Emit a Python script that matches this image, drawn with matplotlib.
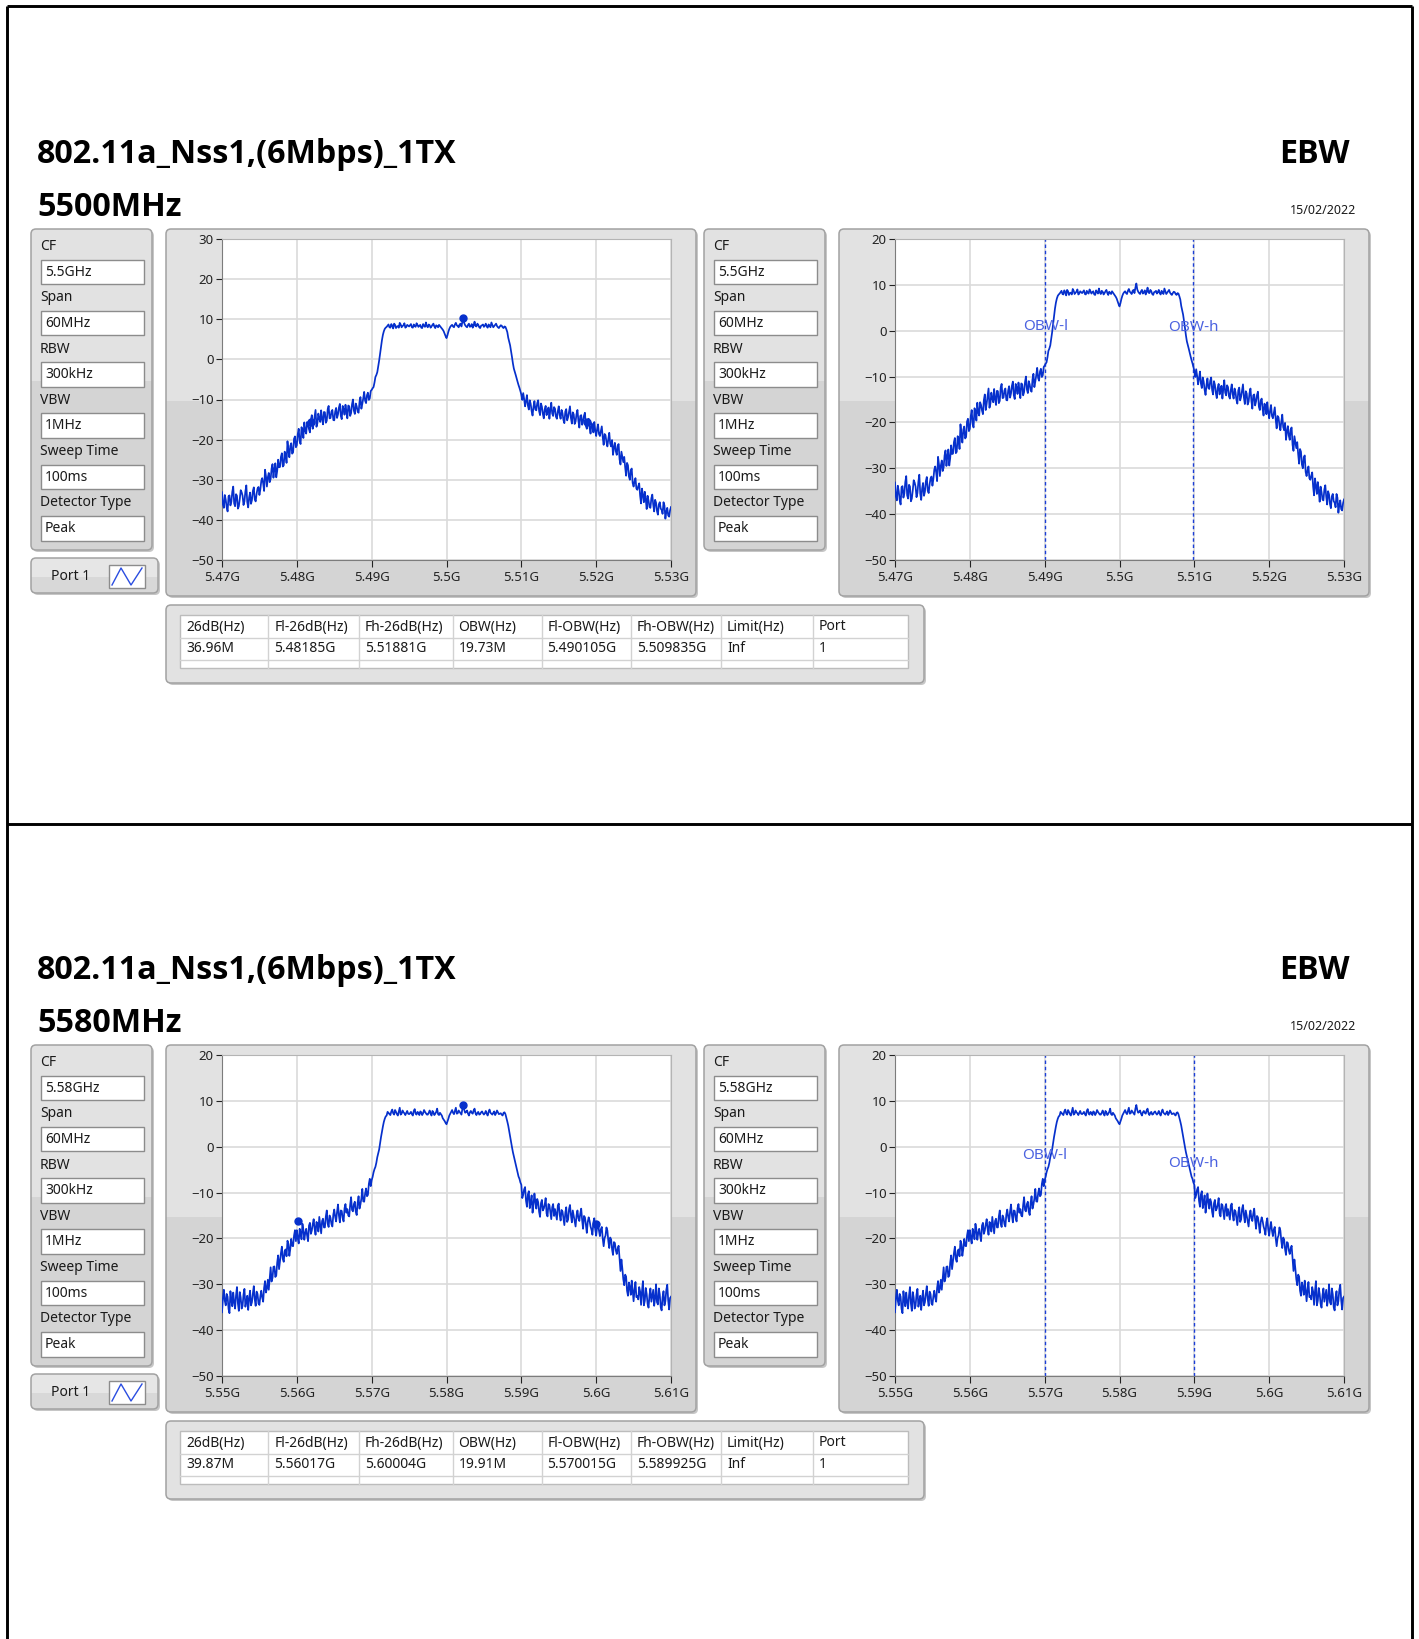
import numpy as np
import matplotlib
matplotlib.use("Agg")
import matplotlib.pyplot as plt
from matplotlib.patches import FancyBboxPatch, Rectangle

plt.rcParams['font.family'] = ['Noto Sans', 'DejaVu Sans']

W, H = 1419, 1639

# ---- values ----
title = '802.11a_Nss1,(6Mbps)_1TX'
test_name = 'EBW'
report_date = '15/02/2022'
channels_mhz = [5500, 5580]

# sweep points: 60 MHz span, one point every 0.125 MHz (481 points)
offsets_mhz = np.arange(481) * 0.125 - 30

# peak-detector traces (dBm). *_even = points on the 0.25 MHz grid,
# *_odd = the points in between, 20 values per row (5 MHz)
trace_5500_even = [
    -33.1, -37.0, -35.0, -37.9, -33.9, -35.5, -31.7, -36.6, -34.0, -36.6, -32.6, -34.0, -35.4, -31.4, -36.9, -33.2, -35.1, -31.9, -35.4, -32.2,
    -33.8, -30.3, -30.9, -27.5, -31.7, -28.3, -29.8, -26.1, -27.3, -29.4, -25.0, -26.8, -23.4, -26.4, -23.6, -20.4, -24.4, -20.9, -23.2, -19.2,
    -21.4, -17.3, -21.1, -17.5, -15.7, -18.5, -16.2, -18.2, -13.9, -15.9, -12.6, -15.9, -14.8, -12.7, -16.2, -13.2, -15.3, -11.6, -14.6, -12.6,
    -15.2, -12.1, -13.7, -11.1, -14.9, -12.4, -11.3, -14.7, -11.7, -13.4, -10.0, -13.6, -11.7, -13.3, -9.4, -11.1, -8.1, -10.9, -8.3, -9.7,
    -7.6, -6.9, -4.4, -3.2, -0.3, 3.2, 6.1, 7.6, 8.1, 8.7, 7.9, 8.4, 8.9, 7.8, 8.3, 9.1, 8.0, 8.5, 7.9, 8.6,
    8.2, 8.8, 7.9, 8.3, 9.0, 8.1, 8.6, 7.8, 8.4, 9.2, 8.0, 8.5, 8.2, 8.9, 7.8, 8.3, 8.6, 8.0, 7.4, 6.4,
    5.3, 6.9, 8.1, 8.6, 8.0, 9.1, 8.3, 8.7, 8.2, 10.3, 8.5, 8.0, 8.9, 8.3, 7.9, 9.4, 8.2, 8.6, 7.8, 8.5,
    8.1, 8.9, 7.9, 8.4, 9.2, 8.0, 8.6, 8.3, 7.8, 8.5, 8.0, 8.2, 7.5, 5.4, 3.5, 0.6, -2.3, -3.9, -5.6, -7.1,
    -8.8, -8.4, -11.7, -8.9, -12.5, -11.1, -14.0, -10.4, -12.7, -10.2, -13.9, -11.8, -14.7, -11.6, -12.8, -14.8, -10.8, -14.1, -12.3, -14.8,
    -11.7, -14.8, -13.4, -15.9, -12.4, -14.4, -11.7, -16.0, -13.7, -15.5, -12.6, -17.0, -13.9, -15.4, -13.3, -17.3, -14.8, -18.5, -16.5, -15.6,
    -19.1, -16.2, -19.1, -16.7, -21.3, -18.9, -21.7, -18.3, -21.7, -23.8, -20.8, -23.8, -21.1, -26.2, -24.3, -24.3, -29.0, -26.4, -30.0, -27.2,
    -31.7, -29.6, -32.5, -30.9, -35.9, -33.8, -33.0, -37.3, -35.2, -37.0, -33.7, -37.9, -35.7, -38.7, -35.6, -37.5, -35.6, -39.7, -37.0, -39.2, -36.8,
]
trace_5500_odd = [
    -36.2, -33.8, -36.9, -34.1, -36.4, -33.0, -35.9, -33.6, -37.2, -34.8, -33.1, -36.3, -32.9, -35.6, -34.4, -36.0, -32.8, -34.9, -33.5, -31.8,
    -32.4, -29.6, -32.8, -29.1, -29.4, -30.6, -27.2, -29.5, -25.9, -27.8, -26.9, -24.3, -26.7, -23.0, -25.8, -22.6, -21.6, -23.5, -19.8, -21.9,
    -18.6, -20.4, -16.9, -19.6, -17.8, -15.6, -17.4, -15.1, -17.3, -14.2, -16.8, -13.5, -15.6, -14.9, -13.1, -15.8, -12.4, -14.7, -13.0, -15.1,
    -13.0, -14.6, -12.0, -14.1, -11.6, -13.8, -12.9, -11.5, -14.1, -11.2, -12.8, -11.0, -13.0, -10.6, -12.3, -9.7, -10.3, -8.9, -10.1, -7.9,
    -7.2, -5.8, -3.9, -1.8, 1.4, 4.8, 7.0, 7.9, 8.4, 8.0, 8.8, 7.7, 8.6, 8.2, 7.9, 8.7, 8.3, 9.0, 8.1, 8.4,
    8.5, 8.0, 8.7, 8.1, 8.6, 8.4, 7.9, 8.8, 8.1, 8.3, 8.7, 7.9, 8.6, 8.2, 8.5, 8.0, 8.3, 7.7, 7.0, 5.8,
    6.0, 7.6, 8.4, 8.2, 8.7, 8.5, 8.0, 8.9, 9.4, 9.0, 8.2, 8.6, 8.1, 8.8, 8.5, 8.3, 8.9, 8.0, 8.4, 8.7,
    8.4, 8.2, 8.7, 8.0, 8.6, 8.3, 8.9, 8.0, 8.2, 8.4, 7.8, 8.1, 6.8, 4.5, 2.1, -1.0, -3.1, -4.8, -6.4, -7.9,
    -10.1, -9.9, -10.4, -11.5, -10.2, -12.9, -11.8, -12.5, -10.9, -12.9, -11.0, -13.6, -12.4, -13.9, -12.0, -12.6, -13.5, -11.9, -14.3, -12.9,
    -13.9, -12.6, -15.1, -13.0, -15.2, -13.1, -14.6, -13.2, -16.1, -13.6, -15.3, -14.1, -16.3, -14.0, -16.6, -15.2, -17.1, -15.9, -18.2, -17.7,
    -17.4, -18.6, -17.9, -19.4, -18.6, -20.6, -19.8, -21.0, -20.1, -22.0, -22.9, -21.5, -24.9, -23.0, -25.6, -26.9, -25.8, -29.2, -27.6, -30.8,
    -30.4, -32.2, -31.6, -34.0, -32.2, -35.6, -34.9, -34.0, -36.8, -34.6, -36.2, -35.0, -37.8, -36.1, -37.2, -38.5, -36.4, -38.0, -38.9, -37.6,
]

trace_5580_even = [
    -36.1, -31.2, -34.6, -32.7, -36.3, -33.4, -31.8, -35.3, -30.6, -35.8, -32.9, -34.7, -31.0, -33.8, -35.6, -31.4, -33.9, -30.4, -34.7, -32.1,
    -34.5, -31.4, -33.8, -29.3, -30.9, -31.2, -26.3, -28.6, -26.1, -28.1, -23.7, -24.9, -21.8, -25.1, -22.4, -20.5, -23.8, -20.1, -21.7, -18.2,
    -18.2, -21.1, -18.7, -16.8, -20.3, -17.9, -20.6, -16.6, -18.3, -15.8, -19.2, -16.8, -15.3, -18.9, -15.7, -17.6, -13.9, -17.5, -15.5, -17.4,
    -13.7, -16.3, -12.6, -16.5, -14.0, -16.3, -12.5, -13.6, -15.2, -11.0, -14.1, -12.0, -14.9, -10.8, -12.6, -9.2, -12.0, -9.1, -10.5, -7.0,
    -7.3, -5.6, -4.4, -2.3, -0.6, 2.1, 4.4, 6.1, 6.8, 7.4, 6.9, 8.1, 7.0, 7.6, 6.8, 8.5, 7.2, 7.5, 6.9, 7.8,
    7.1, 7.6, 6.8, 8.2, 7.0, 7.4, 7.7, 6.9, 8.0, 7.3, 7.0, 7.9, 6.8, 7.5, 7.2, 8.3, 6.9, 7.1, 6.2, 5.6,
    4.9, 6.1, 7.2, 8.0, 7.1, 8.5, 7.3, 7.6, 7.0, 9.1, 7.4, 7.9, 6.8, 7.8, 7.2, 8.3, 6.9, 7.6, 7.1, 7.7,
    7.0, 7.8, 6.8, 8.1, 7.2, 7.4, 6.9, 7.9, 7.1, 7.3, 6.8, 7.5, 6.3, 4.6, 2.2, -0.1, -2.1, -3.9, -5.8, -7.0,
    -8.3, -10.5, -8.8, -13.1, -9.7, -12.2, -14.4, -10.2, -13.5, -12.1, -15.3, -11.6, -13.5, -11.2, -15.2, -12.7, -15.8, -12.5, -13.6, -15.9,
    -12.4, -16.1, -14.1, -17.1, -13.2, -15.9, -12.7, -16.5, -15.1, -17.4, -13.9, -16.2, -13.5, -17.9, -15.4, -18.8, -15.4, -17.4, -19.2, -15.6,
    -19.4, -16.4, -19.5, -17.5, -21.7, -19.4, -18.3, -22.1, -20.2, -23.6, -21.0, -23.4, -21.6, -27.1, -26.6, -30.2, -28.3, -32.5, -30.6, -29.2,
    -33.7, -29.5, -32.6, -30.6, -34.5, -29.3, -33.6, -32.1, -35.1, -30.9, -32.5, -34.7, -30.0, -34.4, -32.2, -35.7, -31.5, -33.7, -30.1, -35.5, -32.7,
]
trace_5580_odd = [
    -33.0, -33.6, -32.1, -35.4, -31.5, -34.8, -33.9, -32.4, -34.2, -31.7, -35.3, -32.2, -34.9, -32.5, -33.1, -34.6, -32.0, -33.3, -31.6, -34.2,
    -32.6, -32.9, -30.8, -31.8, -29.0, -28.6, -29.4, -26.2, -28.4, -25.3, -26.7, -23.2, -24.5, -22.7, -23.9, -21.2, -22.3, -21.6, -19.4, -20.6,
    -20.0, -17.9, -20.2, -18.1, -18.8, -19.4, -17.2, -19.0, -16.9, -17.9, -16.4, -18.5, -17.0, -16.2, -17.6, -15.2, -16.8, -15.0, -16.9, -14.8,
    -15.3, -14.2, -15.0, -13.9, -15.6, -13.4, -14.4, -15.0, -12.7, -13.8, -12.5, -14.2, -12.2, -13.5, -11.3, -11.9, -10.2, -10.8, -8.1, -8.6,
    -6.6, -4.9, -3.5, -1.4, 0.8, 3.3, 5.4, 6.6, 7.6, 7.1, 7.7, 7.3, 8.0, 7.1, 7.7, 7.0, 7.9, 7.3, 7.4, 7.2,
    7.3, 7.1, 7.8, 7.2, 7.6, 6.9, 7.5, 7.3, 7.6, 7.0, 7.4, 7.2, 7.8, 6.9, 7.6, 7.1, 7.4, 6.8, 5.9, 5.2,
    5.5, 6.8, 7.6, 7.4, 7.8, 7.2, 7.9, 7.3, 8.3, 8.0, 7.6, 7.2, 7.5, 7.4, 7.9, 7.3, 7.4, 7.0, 7.5, 7.3,
    7.3, 7.2, 7.6, 7.4, 7.0, 7.7, 7.3, 7.5, 7.2, 7.0, 7.4, 7.1, 5.5, 3.4, 1.1, -1.2, -3.0, -4.9, -6.5, -7.8,
    -11.2, -9.3, -11.8, -10.4, -13.4, -10.6, -12.6, -12.0, -11.4, -14.2, -12.3, -13.9, -12.6, -14.6, -12.5, -14.3, -13.2, -15.1, -14.8, -12.8,
    -14.9, -13.8, -15.6, -14.4, -16.4, -13.6, -14.9, -13.9, -16.3, -15.0, -15.6, -14.6, -16.0, -15.1, -17.0, -16.4, -16.2, -18.1, -16.5, -18.0,
    -17.6, -18.3, -18.0, -20.0, -19.9, -17.6, -20.6, -19.8, -22.4, -20.8, -22.6, -22.2, -24.5, -24.6, -28.9, -27.9, -31.4, -29.6, -32.3, -31.2,
    -31.2, -32.8, -33.3, -31.6, -31.5, -34.6, -30.8, -34.3, -32.4, -33.8, -31.2, -33.1, -33.9, -30.9, -35.0, -32.8, -34.6, -31.2, -33.5, -33.0,
]

xticks_5500 = [5.47, 5.48, 5.49, 5.50, 5.51, 5.52, 5.53]
xticks_5580 = [5.55, 5.56, 5.57, 5.58, 5.59, 5.60, 5.61]

ytop_left = [30, 20]
ytop_right = [20, 20]

# marker dots (peak and the two -26 dB points)
markers_5500_ghz = [5.48185, 5.50225, 5.51881]
markers_5500_db = [-15.7, 10.3, -15.7]
markers_5580_ghz = [5.56017, 5.58225, 5.60004]
markers_5580_db = [-16.2, 9.1, -16.8]

obw_5500 = [5.490105, 5.509835]
obw_5580 = [5.570015, 5.589925]
obw_names = ['OBW-l', 'OBW-h']

param_labels = ['CF', 'Span', 'RBW', 'VBW', 'Sweep Time', 'Detector Type']
params_5500 = ['5.5GHz', '60MHz', '300kHz', '1MHz', '100ms', 'Peak']
params_5580 = ['5.58GHz', '60MHz', '300kHz', '1MHz', '100ms', 'Peak']

table_header = ['26dB(Hz)', 'Fl-26dB(Hz)', 'Fh-26dB(Hz)', 'OBW(Hz)',
                'Fl-OBW(Hz)', 'Fh-OBW(Hz)', 'Limit(Hz)', 'Port']
table_5500 = ['36.96M', '5.48185G', '5.51881G', '19.73M', '5.490105G', '5.509835G', 'Inf', '1']
table_5580 = ['39.87M', '5.56017G', '5.60004G', '19.91M', '5.570015G', '5.589925G', 'Inf', '1']

TRACE = '#0630cc'
TXT = '#1a1a1a'
BOLD = ['Open Sans', 'DejaVu Sans']


def merge(even, odd):
    out = np.empty(len(even) + len(odd))
    out[0::2] = even
    out[1::2] = odd
    return out


trace_5500 = merge(trace_5500_even, trace_5500_odd)
trace_5580 = merge(trace_5580_even, trace_5580_odd)

fig = plt.figure(figsize=(W / 100, H / 100), dpi=100)
bg = fig.add_axes([0, 0, 1, 1])
bg.set_xlim(0, W)
bg.set_ylim(H, 0)
bg.axis('off')


def px_axes(x, y, w, h):
    return fig.add_axes([x / W, 1 - (y + h) / H, w / W, h / H])


def panel(x, y, w, h, split=None, r=5, light='#e2e2e2', dark='#d4d4d4'):
    style = f'round,pad=0,rounding_size={r}'
    bg.add_patch(FancyBboxPatch((x + 2, y + 2), w, h, boxstyle=style,
                                fc='#c6c6c6', ec='none', zorder=1))
    body = FancyBboxPatch((x, y), w, h, boxstyle=style, fc=light, ec='none', zorder=2)
    bg.add_patch(body)
    if split is not None:
        low = Rectangle((x, split), w, y + h - split, fc=dark, ec='none', zorder=2)
        bg.add_patch(low)
        low.set_clip_path(body)
    bg.add_patch(FancyBboxPatch((x, y), w, h, boxstyle=style, fc='none',
                                ec='#a2a2a2', lw=1.1, zorder=3))


def params_panel(x, y, values):
    panel(x, y, 121, 321, split=y + 152)
    for i, (lab, val) in enumerate(zip(param_labels, values)):
        bg.text(x + 9, y + 17.5 + i * 51.3, lab, fontsize=10, color=TXT,
                va='center', ha='left', zorder=5)
        by = y + 30.5 + i * 51.3
        bg.add_patch(Rectangle((x + 9.5, by), 103, 24.5, fc='white',
                               ec='#8c8c8c', lw=1, zorder=4))
        bg.text(x + 14, by + 12.5, val, fontsize=10, color=TXT,
                va='center', ha='left', zorder=5)


def spectrum(x, y, freqs, trace, xticks, ytop, mk_f=None, mk_db=None,
             obw=None, obw_y=None):
    ax = px_axes(x, y, 449, 321)
    ax.set_facecolor('white')
    ax.plot(freqs, trace, color=TRACE, lw=1.25, zorder=3)
    if mk_f is not None:
        ax.plot(mk_f, mk_db, 'o', color=TRACE, ms=5, zorder=4)
    if obw is not None:
        for f, ly, name in zip(obw, obw_y, obw_names):
            ax.axvline(f, color='#1b3ed6', lw=1, ls=(0, (2.5, 2)), zorder=2)
            ax.text(f, ly, name, color='#4b62e0', fontsize=11,
                    ha='center', va='center', zorder=5)
    ax.set_xlim(xticks[0], xticks[-1])
    ax.set_ylim(-50, ytop)
    ax.set_xticks(xticks)
    ax.set_xticklabels([f'{v:g}G' for v in xticks])
    ax.set_yticks(list(range(-50, ytop + 1, 10)))
    ax.grid(color='#dadada', lw=1.2)
    ax.set_axisbelow(True)
    ax.tick_params(axis='both', labelsize=9.5, colors='#222222', direction='out')
    ax.tick_params(axis='y', length=4, pad=2)
    ax.tick_params(axis='x', length=5, pad=3)
    for s in ax.spines.values():
        s.set_color('#b4b4b4')
    ax.spines['left'].set_color('#7c7c7c')
    ax.spines['bottom'].set_color('#7c7c7c')
    return ax


def section(dy, ch, trace, xticks, ytl, ytr, mk_f, mk_db, obw, obw_y, params, row):
    freqs = ch / 1000 + offsets_mhz / 1000

    bg.text(37, 163 + dy, title, fontsize=23.2, fontweight='bold', family=BOLD,
            color='black', ha='left', va='baseline')
    bg.text(37, 216 + dy, f'{ch}MHz', fontsize=23.2, fontweight='bold', family=BOLD,
            color='black', ha='left', va='baseline')
    bg.text(1350, 163 + dy, test_name, fontsize=23.2, fontweight='bold', family=BOLD,
            color='black', ha='right', va='baseline')
    bg.text(1356, 214 + dy, report_date, fontsize=9, color=TXT,
            ha='right', va='baseline')

    # left block
    params_panel(31, 229 + dy, params)
    panel(31, 558 + dy, 127, 35, split=577 + dy, light='#e6e6e6', dark='#d8d8d8')
    bg.text(51, 576 + dy, 'Port 1', fontsize=10, color=TXT, va='center', zorder=5)
    bg.add_patch(Rectangle((109, 565 + dy), 36, 23, fc='white', ec='#8c8c8c',
                           lw=1, zorder=4))
    bg.plot([112, 121, 131, 142], [585 + dy, 568 + dy, 585 + dy, 568 + dy],
            color='#2a4de0', lw=1, zorder=5)
    panel(166, 229 + dy, 530, 367, split=401 + dy)
    spectrum(222, 239 + dy, freqs, trace, xticks, ytl, mk_f, mk_db)

    # right block
    params_panel(704, 229 + dy, params)
    panel(839, 229 + dy, 530, 367, split=401 + dy)
    spectrum(895, 239 + dy, freqs, trace, xticks, ytr, obw=obw, obw_y=obw_y)

    # result table
    panel(166, 605 + dy, 758, 78)
    tx, ty, tw = 180, 615 + dy, 727.7
    bg.add_patch(Rectangle((tx, ty), tw, 53, fc='white', ec='#bcbcbc', lw=1, zorder=4))
    cols = [180, 268.4, 359, 452.5, 541.5, 631, 721, 813, 907.7]
    for c in cols[1:-1]:
        bg.plot([c, c], [ty, ty + 53], color='#d2d2d2', lw=1, zorder=5)
    for yy in (638 + dy, 660 + dy):
        bg.plot([tx, tx + tw], [yy, yy], color='#d2d2d2', lw=1, zorder=5)
    for c, head, val in zip(cols[:-1], table_header, row):
        bg.text(c + 6, 627 + dy, head, fontsize=10, color=TXT, va='center', zorder=6)
        bg.text(c + 6, 649 + dy, val, fontsize=10, color=TXT, va='center', zorder=6)


section(0, channels_mhz[0], trace_5500, xticks_5500, ytop_left[0], ytop_right[0],
        markers_5500_ghz, markers_5500_db, obw_5500, [0.9, 0.7], params_5500, table_5500)
section(816, channels_mhz[1], trace_5580, xticks_5580, ytop_left[1], ytop_right[1],
        markers_5580_ghz, markers_5580_db, obw_5580, [-1.9, -3.6], params_5580, table_5580)

# page borders
for xs, ys in (([6.5, 6.5], [5.5, H]), ([1412, 1412], [5.5, H]),
               ([6.5, 1412], [5.5, 5.5]), ([6.5, 1412], [823.5, 823.5])):
    bg.plot(xs, ys, color='black', lw=2.1, solid_capstyle='butt', zorder=6)

fig.savefig('out.png', dpi=100)
